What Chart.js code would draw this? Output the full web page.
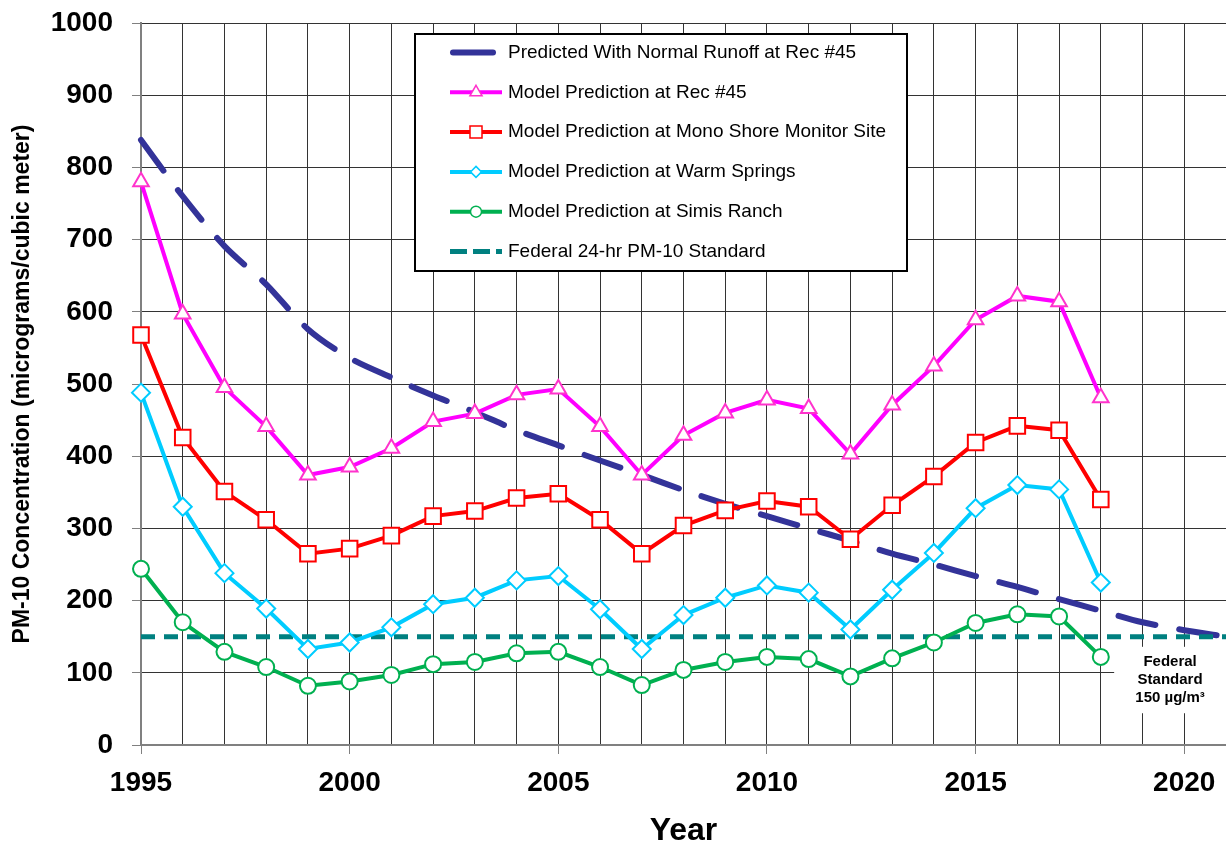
<!DOCTYPE html>
<html>
<head>
<meta charset="utf-8">
<script src="https://cdn.jsdelivr.net/npm/chart.js@4.4.0/dist/chart.umd.min.js"></script>
<style>
  body { margin: 0; background: #fff; }
  #canvas { display: block; }
</style>
</head>
<body>
<canvas id="canvas" width="1226" height="847"></canvas>
<script>
// years for the normal-runoff projection (runs out to 2021)
let runoffYears = [1995, 1996, 1997, 1998, 1999, 2000, 2001, 2002, 2003, 2004, 2005, 2006, 2007,
  2008, 2009, 2010, 2011, 2012, 2013, 2014, 2015, 2016, 2017, 2018, 2019, 2020, 2021];
let normalRunoff = [838, 760, 691, 638, 576, 536, 509, 484, 461, 436, 415, 394, 374,
  353, 334, 317, 300, 283, 265, 250, 234, 219, 202, 186, 170, 159, 150];

// model prediction years
let modelYears = [1995, 1996, 1997, 1998, 1999, 2000, 2001, 2002, 2003, 2004, 2005, 2006,
  2007, 2008, 2009, 2010, 2011, 2012, 2013, 2014, 2015, 2016, 2017, 2018];
let rec45 = [780, 597, 495, 441, 374, 385, 411, 448, 459, 485, 493, 441,
  374, 429, 460, 478, 466, 403, 471, 525, 589, 622, 614, 481];
let monoShore = [568, 426, 351, 312, 265, 272, 290, 317, 324, 342, 348, 312,
  265, 304, 325, 338, 330, 285, 332, 372, 419, 442, 436, 340];
let warmSprings = [488, 330, 238, 189, 133, 142, 163, 195, 204, 228, 234, 188,
  133, 180, 204, 221, 211, 160, 215, 266, 328, 360, 354, 225];
let simisRanch = [244, 170, 129, 108, 82, 88, 97, 112, 115, 127, 129, 108,
  83, 104, 115, 122, 119, 95, 120, 142, 169, 181, 178, 122];

let standardYears = [1995, 2021];
let federalStandard = 150;

let seriesLabels = [
  "Predicted With Normal Runoff at Rec #45",
  "Model Prediction at Rec #45",
  "Model Prediction at Mono Shore Monitor Site",
  "Model Prediction at Warm Springs",
  "Model Prediction at Simis Ranch",
  "Federal 24-hr PM-10 Standard",
];
let noteLines = ["Federal", "Standard", "150 \u00b5g/m\u00b3"];

const FONT = "'Liberation Sans', Arial, sans-serif";
Chart.defaults.font.family = FONT;

function toPoints(xs, ys) {
  return ys.map((v, i) => ({ x: xs[i], y: v }));
}

function drawMarker(c, style, x, y, r) {
  c.beginPath();
  if (style === "triangle") {
    c.moveTo(x, y - r);
    c.lineTo(x + r * 0.866, y + r * 0.5);
    c.lineTo(x - r * 0.866, y + r * 0.5);
    c.closePath();
  } else if (style === "rect") {
    c.rect(x - r, y - r, 2 * r, 2 * r);
  } else if (style === "rectRot") {
    c.moveTo(x, y - r);
    c.lineTo(x + r, y);
    c.lineTo(x, y + r);
    c.lineTo(x - r, y);
    c.closePath();
  } else {
    c.arc(x, y, r, 0, Math.PI * 2);
  }
  c.fill();
  c.stroke();
}

// white box + text note for the standard, sits on top of the grid
const standardNote = {
  id: "standardNote",
  beforeDatasetsDraw(chart) {
    const c = chart.ctx;
    const xs = chart.scales.x, ys = chart.scales.y;
    const left = xs.getPixelForValue(2018.32);
    const top = ys.getPixelForValue(136);
    c.save();
    c.fillStyle = "#fff";
    c.fillRect(left, top, chart.chartArea.right - left, ys.getPixelForValue(44) - top);
    c.fillStyle = "#000";
    c.font = "bold 15px " + FONT;
    c.textAlign = "center";
    c.textBaseline = "middle";
    const cx = xs.getPixelForValue(2019.66);
    const lineVals = [115, 90, 65];
    noteLines.forEach((t, i) => {
      c.fillText(t, cx, ys.getPixelForValue(lineVals[i]));
    });
    c.restore();
  },
};

// boxed legend inside the plot
const boxLegend = {
  id: "boxLegend",
  afterDraw(chart) {
    const c = chart.ctx;
    const bx = 415, by = 34, bw = 492, bh = 237;
    c.save();
    c.fillStyle = "#fff";
    c.fillRect(bx, by, bw, bh);
    c.strokeStyle = "#000";
    c.lineWidth = 2;
    c.strokeRect(bx, by, bw, bh);

    const markerSize = { triangle: 7, rect: 6, rectRot: 5.5, circle: 5.5 };
    chart.data.datasets.forEach((ds, i) => {
      const y = 52.5 + i * 39.8;
      c.strokeStyle = ds.borderColor;
      c.setLineDash(ds.legendDash || []);
      c.lineWidth = ds.legendWidth;
      c.lineCap = ds.legendCap || "butt";
      c.beginPath();
      c.moveTo(ds.legendFrom || 450, y);
      c.lineTo(ds.legendTo || 502, y);
      c.stroke();
      c.setLineDash([]);
      c.lineCap = "butt";
      if (ds.pointRadius > 0) {
        c.fillStyle = "#fff";
        c.strokeStyle = ds.pointBorderColor;
        c.lineWidth = 1.5;
        drawMarker(c, ds.pointStyle, 476, y, markerSize[ds.pointStyle]);
      }
      c.fillStyle = "#000";
      c.font = "19px " + FONT;
      c.textAlign = "left";
      c.textBaseline = "middle";
      c.fillText(ds.label, 508, y);
    });
    c.restore();
  },
};

function noPad(s) {
  s.paddingLeft = 0;
  s.paddingRight = 0;
  s.paddingTop = 0;
  s.paddingBottom = 0;
}

let canvas = document.getElementById("canvas");
let ctx = canvas.getContext("2d");

let pmChart = new Chart(ctx, {
  type: "line",
  data: {
    datasets: [
      {
        label: seriesLabels[0],
        data: toPoints(runoffYears, normalRunoff),
        borderColor: "#333399",
        borderWidth: 6,
        borderDash: [38, 24],
        borderCapStyle: "round",
        pointRadius: 0,
        tension: 0.3,
        order: 6,
        legendWidth: 6,
        legendCap: "round",
        legendFrom: 453,
        legendTo: 493,
      },
      {
        label: seriesLabels[1],
        data: toPoints(modelYears, rec45),
        borderColor: "#ff00ff",
        borderWidth: 4,
        pointStyle: "triangle",
        pointRadius: 9,
        pointBackgroundColor: "#fff",
        pointBorderColor: "#ff33cc",
        pointBorderWidth: 2,
        order: 1,
        legendWidth: 4,
      },
      {
        label: seriesLabels[2],
        data: toPoints(modelYears, monoShore),
        borderColor: "#ff0000",
        borderWidth: 4,
        pointStyle: "rect",
        pointRadius: 11,
        pointBackgroundColor: "#fff",
        pointBorderColor: "#ff0000",
        pointBorderWidth: 2,
        order: 2,
        legendWidth: 4,
      },
      {
        label: seriesLabels[3],
        data: toPoints(modelYears, warmSprings),
        borderColor: "#00ccff",
        borderWidth: 4,
        pointStyle: "rectRot",
        pointRadius: 9,
        pointBackgroundColor: "#fff",
        pointBorderColor: "#00ccff",
        pointBorderWidth: 2,
        order: 3,
        legendWidth: 4,
      },
      {
        label: seriesLabels[4],
        data: toPoints(modelYears, simisRanch),
        borderColor: "#00b050",
        borderWidth: 4,
        pointStyle: "circle",
        pointRadius: 8,
        pointBackgroundColor: "#fff",
        pointBorderColor: "#00b050",
        pointBorderWidth: 2,
        order: 4,
        legendWidth: 4,
      },
      {
        label: seriesLabels[5],
        data: standardYears.map((x) => ({ x: x, y: federalStandard })),
        borderColor: "#008080",
        borderWidth: 5,
        borderDash: [14, 9],
        pointRadius: 0,
        order: 5,
        legendWidth: 5,
        legendDash: [17, 6],
      },
    ],
  },
  options: {
    responsive: false,
    animation: false,
    clip: false,
    layout: { autoPadding: false, padding: { top: 23, right: 0, left: 0, bottom: 0 } },
    plugins: {
      legend: { display: false },
      tooltip: { enabled: false },
    },
    scales: {
      x: {
        type: "linear",
        min: 1995,
        max: 2021,
        ticks: {
          stepSize: 1,
          autoSkip: false,
          maxRotation: 0,
          minRotation: 0,
          color: "#000",
          padding: 12,
          font: { size: 28, weight: "bold" },
          callback: (v) => (v % 5 === 0 ? String(v) : ""),
        },
        grid: {
          color: "#333",
          lineWidth: 1,
          tickLength: 9,
          tickColor: (c) => (c.tick && c.tick.value % 5 === 0 ? "#808080" : "rgba(0,0,0,0)"),
        },
        border: { color: "#808080", width: 2 },
        title: {
          display: true,
          text: "Year",
          color: "#000",
          font: { size: 32, weight: "bold", lineHeight: 1 },
          padding: { top: 0, bottom: 0 },
        },
        afterFit: (s) => { s.height = 102; noPad(s); },
      },
      y: {
        min: 0,
        max: 1000,
        ticks: {
          stepSize: 100,
          color: "#000",
          padding: 19,
          font: { size: 28, weight: "bold" },
          callback: (v) => String(v),
        },
        grid: { color: "#333", lineWidth: 1, tickLength: 9, tickColor: "#808080" },
        border: { color: "#808080", width: 2 },
        title: {
          display: true,
          text: "PM-10 Concentration (micrograms/cubic meter)",
          color: "#000",
          font: { size: 23, weight: "bold", lineHeight: 1 },
          padding: { top: 11, bottom: 0 },
        },
        afterFit: (s) => { s.width = 141; noPad(s); },
      },
    },
  },
  plugins: [standardNote, boxLegend],
});
</script>
</body>
</html>
